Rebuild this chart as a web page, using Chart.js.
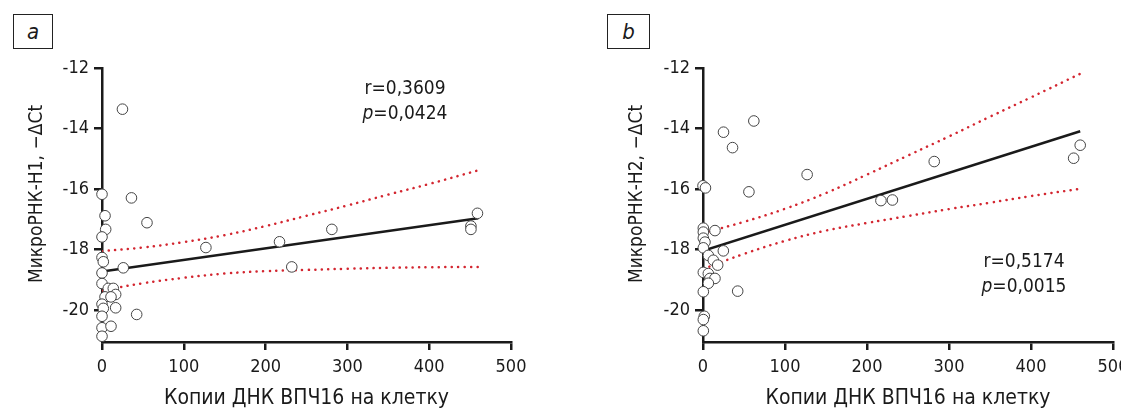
<!DOCTYPE html>
<html lang="ru">
<head>
    <meta charset="UTF-8">
    <title>МикроРНК и ВПЧ16</title>
    <script src="https://cdn.jsdelivr.net/npm/chart.js@4.4.1/dist/chart.umd.min.js"></script>
    <style>
        html, body { margin: 0; padding: 0; background: #fff; overflow: hidden; }
        body { width: 1121px; height: 414px; position: relative; }
        .panel { position: absolute; top: 0; height: 414px; }
        #panelA { left: 0; width: 560px; }
        #panelB { left: 540px; width: 600px; }
        .tag {
            position: absolute; top: 14px; height: 35px;
            border: 1px solid #222; box-sizing: border-box; background: #fff;
            font: italic 22px 'Liberation Sans Narrow', 'DejaVu Sans Condensed', 'Liberation Sans', sans-serif;
            color: #1a1a1a; text-align: center; line-height: 33px;
        }
        #tagA { left: 13px; width: 40px; }
        #tagB { left: 607px; width: 43px; }
    </style>
</head>
<body>
    <div class="panel" id="panelA"><canvas id="chartA"></canvas></div>
    <div class="panel" id="panelB"><canvas id="chartB"></canvas></div>
    <div class="tag" id="tagA">a</div>
    <div class="tag" id="tagB">b</div>

    <script>
        // tick labels
        const xTicks = [0, 100, 200, 300, 400, 500];
        const yTicks = [-20, -18, -16, -14, -12];

        // panel a: miRNA-H1 vs HPV16 copies per cell
        const aX = [0, 25, 36, 55, 127, 217, 232, 281, 459, 451, 451,
                    3.7, 4.5, 0, 0, 1.6, 0, 26, 0, 7.7, 13.8, 16.7, 3.7, 11, 0, 1.6, 16.7, 0, 42.4, 0, 11, 0];
        const aY = [-16.17, -13.36, -16.29, -17.11, -17.93, -17.74, -18.57, -17.33, -16.8, -17.22, -17.33,
                    -16.88, -17.33, -17.58, -18.26, -18.4, -18.77, -18.6, -19.12, -19.28, -19.28, -19.48, -19.56, -19.56, -19.8, -19.94, -19.92, -20.2, -20.14, -20.58, -20.53, -20.86];

        // panel b: miRNA-H2 vs HPV16 copies per cell
        const bX = [62, 25, 36, 127, 0, 3, 56, 217, 231, 282, 460, 452,
                    0.4, 0.4, 0.4, 2.4, 14.6, 0.4, 24.8, 6.5, 12.6, 17.9, 0.4, 6.5, 8.5, 14.6, 6.5, 0.4, 42.3, 1.6, 0.4, 0.4];
        const bY = [-13.75, -14.12, -14.63, -15.52, -15.89, -15.96, -16.09, -16.38, -16.36, -15.09, -14.55, -14.98,
                    -17.29, -17.42, -17.62, -17.75, -17.37, -17.94, -18.04, -18.19, -18.35, -18.51, -18.75, -18.79, -18.95, -18.95, -19.11, -19.39, -19.37, -20.2, -20.31, -20.68];

        // regression lines
        const fitX = [0, 460];
        const aFit = [-18.72, -16.96];
        const bFit = [-18.04, -14.09];

        // 95% confidence bands
        const bandX = [0, 50, 100, 150, 200, 250, 300, 350, 400, 460];
        const aUpper = [-18.05, -17.93, -17.75, -17.52, -17.22, -16.88, -16.54, -16.18, -15.83, -15.38];
        const aLower = [-19.35, -19.11, -18.93, -18.79, -18.71, -18.67, -18.63, -18.6, -18.58, -18.57];
        const bUpper = [-17.45, -17.08, -16.65, -16.13, -15.52, -14.89, -14.26, -13.61, -12.97, -12.19];
        const bLower = [-18.64, -18.14, -17.71, -17.37, -17.12, -16.89, -16.66, -16.45, -16.23, -15.99];

        const FONT = "'Liberation Sans Narrow', 'DejaVu Sans Condensed', 'Liberation Sans', sans-serif";
        const INK = '#1a1a1a';
        const RED = '#d32630';

        const pts = (xs, ys) => xs.map((x, i) => ({ x: x, y: ys[i] }));

        function makeChart(id, cfg) {
            const textPlugin = {
                id: 'texts',
                afterDraw(chart) {
                    const ctx = chart.ctx;
                    const area = chart.chartArea;
                    ctx.save();
                    ctx.fillStyle = INK;
                    // x title
                    ctx.font = '21px ' + FONT;
                    ctx.textAlign = 'center';
                    ctx.textBaseline = 'middle';
                    ctx.fillText('Копии ДНК ВПЧ16 на клетку', (area.left + area.right) / 2, 399);
                    // y title
                    ctx.save();
                    ctx.font = '19px ' + FONT;
                    ctx.translate(cfg.yTitleX, 194);
                    ctx.rotate(-Math.PI / 2);
                    ctx.fillText(cfg.yTitle, 0, 0);
                    ctx.restore();
                    // stats
                    ctx.font = '19px ' + FONT;
                    ctx.fillText(cfg.r, cfg.statX, cfg.statY);
                    const rest = cfg.p;
                    ctx.font = 'italic 19px ' + FONT;
                    const pw = ctx.measureText('p').width;
                    ctx.font = '19px ' + FONT;
                    const rw = ctx.measureText(rest).width;
                    const left = cfg.statX - (pw + rw) / 2;
                    ctx.textAlign = 'left';
                    ctx.font = 'italic 19px ' + FONT;
                    ctx.fillText('p', left, cfg.statY + 25);
                    ctx.font = '19px ' + FONT;
                    ctx.fillText(rest, left + pw, cfg.statY + 25);
                    ctx.restore();
                }
            };

            return new Chart(document.getElementById(id), {
                type: 'scatter',
                data: {
                    datasets: [
                        {
                            data: pts(cfg.xs, cfg.ys),
                            pointRadius: 5.3,
                            pointBackgroundColor: '#fff',
                            pointBorderColor: '#444',
                            pointBorderWidth: 1,
                            clip: false,
                            order: 0
                        },
                        {
                            data: pts(fitX, cfg.fit),
                            showLine: true,
                            borderColor: INK,
                            borderWidth: 2.5,
                            pointRadius: 0,
                            order: 1
                        },
                        {
                            data: pts(bandX, cfg.upper),
                            showLine: true,
                            borderColor: RED,
                            borderWidth: 2.5,
                            borderDash: [0.1, 6.4],
                            borderCapStyle: 'round',
                            tension: 0.4,
                            pointRadius: 0,
                            order: 2
                        },
                        {
                            data: pts(bandX, cfg.lower),
                            showLine: true,
                            borderColor: RED,
                            borderWidth: 2.5,
                            borderDash: [0.1, 6.4],
                            borderCapStyle: 'round',
                            tension: 0.4,
                            pointRadius: 0,
                            order: 2
                        }
                    ]
                },
                options: {
                    responsive: false,
                    animation: false,
                    events: [],
                    layout: { padding: { top: 68, right: cfg.padRight, bottom: 0, left: 0 } },
                    plugins: { legend: { display: false }, tooltip: { enabled: false } },
                    scales: {
                        x: {
                            type: 'linear',
                            min: 0,
                            max: 500,
                            afterBuildTicks: s => { s.ticks = xTicks.map(v => ({ value: v })); },
                            afterFit: s => { s.height = 72; },
                            ticks: { color: INK, font: { family: FONT, size: 18 }, padding: 7, maxRotation: 0 },
                            grid: { drawOnChartArea: false, drawTicks: true, tickLength: 8, color: INK, lineWidth: 2.5 },
                            border: { color: INK, width: 2.5 }
                        },
                        y: {
                            type: 'linear',
                            min: -21.05,
                            max: -12,
                            afterBuildTicks: s => { s.ticks = yTicks.map(v => ({ value: v })); },
                            afterFit: s => { s.width = cfg.yWidth; },
                            ticks: { color: INK, font: { family: FONT, size: 18 }, padding: 5, callback: v => String(v) },
                            grid: { drawOnChartArea: false, drawTicks: true, tickLength: 8, color: INK, lineWidth: 2.5 },
                            border: { color: INK, width: 2.5 }
                        }
                    }
                },
                plugins: [textPlugin]
            });
        }

        const cA = document.getElementById('chartA');
        cA.width = 560; cA.height = 414;
        const cB = document.getElementById('chartB');
        cB.width = 600; cB.height = 414;

        makeChart('chartA', {
            xs: aX, ys: aY, fit: aFit, upper: aUpper, lower: aLower,
            yWidth: 102, padRight: 49, yTitleX: 37,
            yTitle: 'МикроРНК-Н1, −ΔCt',
            r: 'r=0,3609', p: '=0,0424', statX: 405, statY: 89
        });

        makeChart('chartB', {
            xs: bX, ys: bY, fit: bFit, upper: bUpper, lower: bLower,
            yWidth: 163, padRight: 27, yTitleX: 97,
            yTitle: 'МикроРНК-Н2, −ΔCt',
            r: 'r=0,5174', p: '=0,0015', statX: 484, statY: 262
        });
    </script>
</body>
</html>
